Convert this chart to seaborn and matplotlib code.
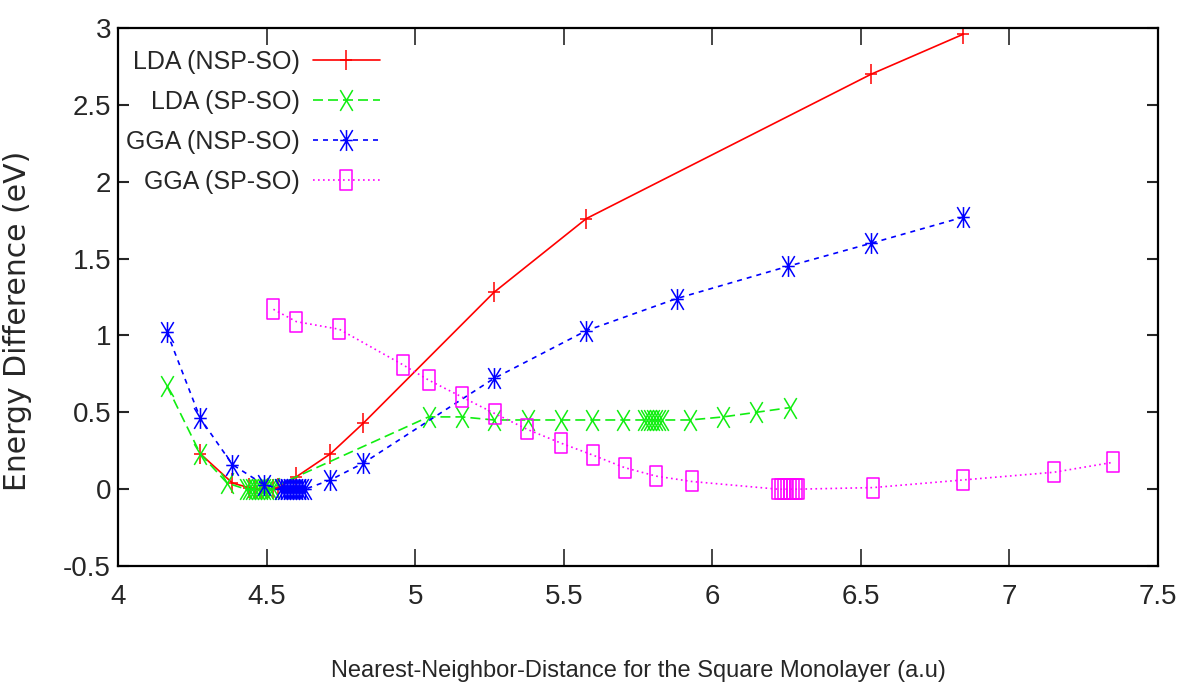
import numpy as np
import pandas as pd
import seaborn as sns
import matplotlib.pyplot as plt
from matplotlib.path import Path

sns.set_style("ticks")
plt.rcParams['font.family'] = ['Liberation Sans', 'DejaVu Sans']

# LDA (NSP-SO)
lda_nsp_x = [4.277, 4.385, 4.44, 4.46, 4.48, 4.50, 4.52, 4.54, 4.60, 4.715, 4.826, 5.265, 5.576, 6.535, 6.845]
lda_nsp_y = [0.23, 0.04, 0.01, 0.0, 0.0, 0.0, 0.0, 0.01, 0.08, 0.23, 0.43, 1.28, 1.76, 2.70, 2.96]

# LDA (SP-SO)
lda_sp_x = [4.165, 4.277, 4.367, 4.43, 4.44, 4.45, 4.46, 4.47, 4.48, 4.49, 4.50, 4.51, 4.52,
            5.045, 5.157, 5.265, 5.38, 5.49, 5.595, 5.70, 5.77, 5.78, 5.79, 5.80, 5.81, 5.82, 5.83,
            5.925, 6.037, 6.148, 6.26]
lda_sp_y = [0.67, 0.23, 0.04, 0.0, 0.0, 0.0, 0.0, 0.0, 0.0, 0.0, 0.0, 0.0, 0.01,
            0.47, 0.47, 0.45, 0.45, 0.45, 0.45, 0.45, 0.45, 0.45, 0.45, 0.45, 0.45, 0.45, 0.45,
            0.45, 0.47, 0.50, 0.53]

# GGA (NSP-SO)
gga_nsp_x = [4.165, 4.277, 4.385, 4.49, 4.55, 4.56, 4.57, 4.58, 4.59, 4.60, 4.61, 4.62, 4.63,
             4.715, 4.826, 5.265, 5.575, 5.88, 6.255, 6.535, 6.845]
gga_nsp_y = [1.02, 0.46, 0.16, 0.03, 0.0, 0.0, 0.0, 0.0, 0.0, 0.0, 0.0, 0.0, 0.0,
             0.06, 0.17, 0.72, 1.03, 1.24, 1.45, 1.60, 1.77]

# GGA (SP-SO)
gga_sp_x = [4.523, 4.60, 4.745, 4.958, 5.045, 5.157, 5.27, 5.376, 5.49, 5.60, 5.705, 5.81, 5.93,
            6.22, 6.23, 6.24, 6.25, 6.26, 6.27, 6.28, 6.29, 6.54, 6.845, 7.15, 7.35]
gga_sp_y = [1.17, 1.09, 1.04, 0.81, 0.71, 0.60, 0.49, 0.39, 0.30, 0.22, 0.14, 0.085, 0.05,
            0.0, 0.0, 0.0, 0.0, 0.0, 0.0, 0.0, 0.0, 0.01, 0.06, 0.11, 0.175]

labels = ['LDA (NSP-SO)', 'LDA (SP-SO)', 'GGA (NSP-SO)', 'GGA (SP-SO)']
colors = ['#ff0000', '#11ee11', '#0000ff', '#ff00ff']

# gnuplot-like markers, a bit narrower than tall
w = 0.6
M, L, C = Path.MOVETO, Path.LINETO, Path.CLOSEPOLY
plus_m = Path([(-w, 0), (w, 0), (0, -1), (0, 1)], [M, L, M, L])
cross_m = Path([(-w, -1), (w, 1), (-w, 1), (w, -1)], [M, L, M, L])
star_m = Path([(-w, 0), (w, 0), (0, -1), (0, 1), (-w, -1), (w, 1), (-w, 1), (w, -1)],
              [M, L, M, L, M, L, M, L])
box_m = Path([(-w, -1), (w, -1), (w, 1), (-w, 1), (-w, -1)], [M, L, L, L, C])

series = [
    (lda_nsp_x, lda_nsp_y, plus_m, '-'),
    (lda_sp_x, lda_sp_y, cross_m, (0, (6, 3))),
    (gga_nsp_x, gga_nsp_y, star_m, (0, (3, 3))),
    (gga_sp_x, gga_sp_y, box_m, (0, (1, 2))),
]

fig = plt.figure(figsize=(11.87, 6.90), dpi=100)
ax = fig.add_axes([0.0994, 0.1797, 0.8762, 0.7797])

for (xs, ys, mk, ls), lab, col in zip(series, labels, colors):
    df = pd.DataFrame({'x': xs, 'y': ys})
    sns.lineplot(data=df, x='x', y='y', ax=ax, estimator=None, sort=False,
                 color=col, linestyle=ls, linewidth=1.2, marker=mk, markersize=15,
                 markerfacecolor='none', markeredgecolor=col, markeredgewidth=1.1,
                 label=lab)

ax.set_xlim(4, 7.5)
ax.set_ylim(-0.5, 3)
xt = [4, 4.5, 5, 5.5, 6, 6.5, 7, 7.5]
yt = [-0.5, 0, 0.5, 1, 1.5, 2, 2.5, 3]
ax.set_xticks(xt)
ax.set_xticklabels(['4', '4.5', '5', '5.5', '6', '6.5', '7', '7.5'])
ax.set_yticks(yt)
ax.set_yticklabels(['-0.5', '0', '0.5', '1', '1.5', '2', '2.5', '3'])
ax.tick_params(axis='x', direction='in', length=12, width=1.2, top=True, labelsize=20, pad=13)
ax.tick_params(axis='y', direction='in', length=8, width=1.5, right=True, labelsize=20, pad=5)
for s in ax.spines.values():
    s.set_linewidth(1.6)
    s.set_color('black')

ax.set_xlabel('Nearest-Neighbor-Distance for the Square Monolayer (a.u)', fontsize=17, labelpad=36)
ax.set_ylabel('Energy Difference (eV)', fontsize=21.5, family='DejaVu Sans')
ax.yaxis.set_label_coords(-0.083, 0.455)

leg = ax.legend(loc='upper left', bbox_to_anchor=(0.098, 0.942), bbox_transform=fig.transFigure,
                frameon=False, markerfirst=False, fontsize=18, handlelength=2.7,
                handletextpad=0.5, labelspacing=0.64, borderaxespad=0)

fig.savefig('out.png', dpi=100)
